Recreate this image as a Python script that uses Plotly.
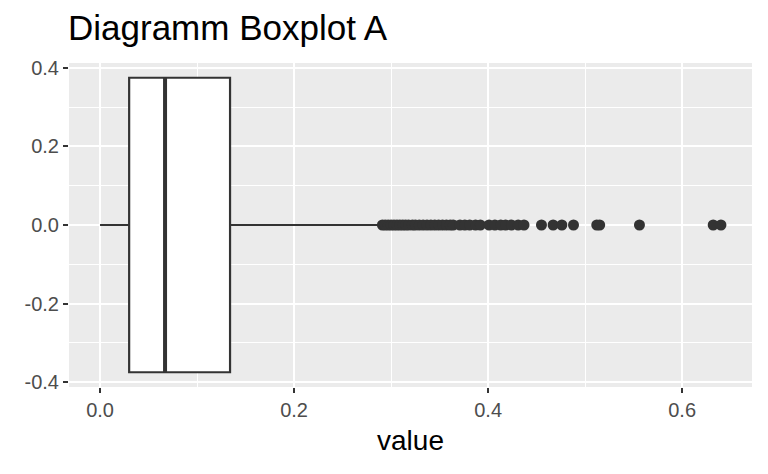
import plotly.graph_objects as go

# Box statistics
q1 = [0.030]
median = [0.067]
q3 = [0.134]
lower_fence = [0.0]
upper_fence = [0.288]
box_pos = [0.0]
BOX_WIDTH = 0.75

outliers = [0.291, 0.294, 0.297, 0.300, 0.303, 0.306, 0.309, 0.312, 0.315, 0.318,
            0.322, 0.325, 0.329, 0.333, 0.337, 0.341, 0.345, 0.349, 0.353, 0.357,
            0.361, 0.364, 0.371, 0.376, 0.381, 0.387, 0.392, 0.401, 0.407, 0.413,
            0.418, 0.424, 0.431, 0.437, 0.455, 0.467, 0.476, 0.488, 0.512, 0.515,
            0.556, 0.632, 0.640]

x_ticks = [0.0, 0.2, 0.4, 0.6]
x_tick_labels = ["0.0", "0.2", "0.4", "0.6"]
y_ticks = [-0.4, -0.2, 0.0, 0.2, 0.4]
y_tick_labels = ["-0.4", "-0.2", "0.0", "0.2", "0.4"]

DARK = "#333333"
FONT = "Liberation Sans, Arial, sans-serif"

fig = go.Figure()
fig.add_trace(go.Box(
    y=box_pos, q1=q1, median=median, q3=q3,
    lowerfence=lower_fence, upperfence=upper_fence,
    orientation="h", width=BOX_WIDTH, whiskerwidth=0,
    fillcolor="white", line=dict(color=DARK, width=2.2),
    boxpoints=False, hoverinfo="skip", showlegend=False,
))
# thicker median line
fig.add_trace(go.Scatter(
    x=[median[0], median[0]],
    y=[box_pos[0] - BOX_WIDTH / 2, box_pos[0] + BOX_WIDTH / 2],
    mode="lines", line=dict(color=DARK, width=4),
    hoverinfo="skip", showlegend=False,
))
fig.add_trace(go.Scatter(
    x=outliers, y=[box_pos[0]] * len(outliers),
    mode="markers", marker=dict(color=DARK, size=11, line=dict(width=0)),
    hoverinfo="skip", showlegend=False,
))

axis_common = dict(
    showgrid=True, gridcolor="white", gridwidth=2,
    zeroline=False, showline=False,
    ticks="outside", ticklen=5, tickwidth=1.6, tickcolor=DARK,
    tickfont=dict(family=FONT, size=20, color="#4D4D4D"),
)

fig.update_layout(
    width=768, height=474,
    paper_bgcolor="white", plot_bgcolor="#EBEBEB",
    margin=dict(l=69, r=16, t=63, b=87),
    title=dict(text="Diagramm Boxplot A", x=68 / 768, xanchor="left",
               y=1 - 40 / 474, yanchor="bottom",
               font=dict(family=FONT, size=35, color="black")),
    xaxis=dict(range=[-0.032, 0.672], tickvals=x_ticks, ticktext=x_tick_labels,
               title=dict(text="value", font=dict(family=FONT, size=28, color="black"),
                          standoff=10),
               minor=dict(dtick=0.1, tick0=0.1, showgrid=True, gridcolor="white",
                          gridwidth=1, ticks=""),
               **axis_common),
    yaxis=dict(range=[-0.4125, 0.4125], tickvals=y_ticks, ticktext=y_tick_labels,
               minor=dict(dtick=0.2, tick0=0.1, showgrid=True, gridcolor="white",
                          gridwidth=1, ticks=""),
               **axis_common),
    font=dict(family=FONT),
)

fig.write_html("out.html", config={"displayModeBar": False},
               post_script="document.body.style.margin='0';")
